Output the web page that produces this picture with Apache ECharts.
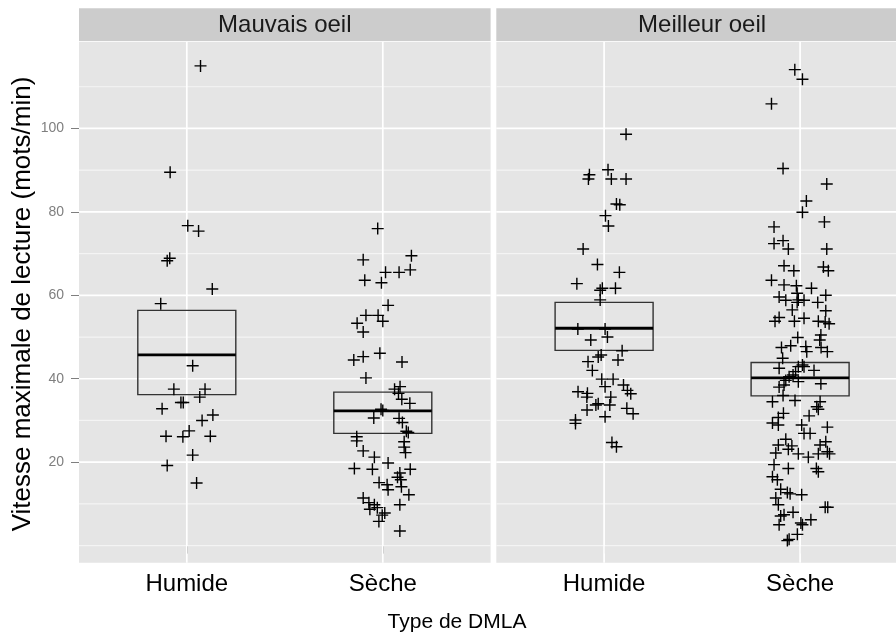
<!DOCTYPE html>
<html><head><meta charset="utf-8">
<script src="https://cdn.jsdelivr.net/npm/echarts@6/dist/echarts.min.js"></script>
<style>html,body{margin:0;padding:0;background:#fff}#c{width:896px;height:638px}</style>
</head><body><div id="c"></div>
<script>
// ---------- data ----------
const panels = ['Mauvais oeil', 'Meilleur oeil'];
const categories = ['Humide', 'Sèche'];
const xTitle = 'Type de DMLA';
const yTitle = 'Vitesse maximale de lecture (mots/min)';
const yTickLabels = [20, 40, 60, 80, 100];
const yMinorBreaks = [0, 10, 30, 50, 70, 90, 110];

// box stats per panel: [Humide, Sèche]
const boxQ1  = [[36.2, 26.9], [46.8, 35.9]];
const boxMed = [[45.7, 32.3], [52.1, 40.2]];
const boxQ3  = [[56.4, 36.8], [58.3, 43.9]];

// jittered points: [x position (1=Humide, 2=Sèche), value]
const mauvaisHumide = [[1.07,115],[0.915,89.5],[1.005,76.7],[1.06,75.4],[0.913,68.9],[0.90,68.3],[1.13,61.5],[0.867,58.0],[1.03,43.1],[0.934,37.5],[1.093,37.5],[1.066,35.6],[0.97,34.3],[0.982,34.3],[0.874,32.8],[1.133,31.3],[1.078,30.0],[1.012,27.5],[0.894,26.2],[0.98,26.1],[1.12,26.2],[1.03,21.7],[0.90,19.2],[1.05,15.0]];
const mauvaisSeche = [[1.974,76.0],[1.90,68.5],[2.146,69.5],[2.014,65.5],[2.083,65.5],[2.14,66.1],[1.908,63.6],[1.993,63.0],[2.027,57.6],[1.914,55.2],[1.976,55.2],[2.0,53.8],[1.869,53.3],[1.90,51.2],[1.985,46.1],[1.90,45.3],[1.852,44.5],[2.098,44.0],[1.914,40.2],[2.06,37.5],[2.088,38.1],[2.08,36.5],[2.097,35.1],[2.138,34.1],[1.991,32.7],[2.0,32.4],[1.954,30.6],[2.083,30.5],[2.10,29.5],[2.12,27.4],[2.13,27.1],[1.867,26.1],[1.867,25.1],[2.109,24.9],[2.109,23.6],[2.116,22.3],[1.90,22.7],[1.957,21.2],[2.027,19.8],[1.855,18.5],[1.947,18.3],[2.14,18.3],[2.087,17.4],[2.075,16.4],[2.092,15.8],[1.981,15.1],[2.022,14.6],[2.095,14.1],[2.027,13.4],[2.133,12.2],[1.90,11.4],[1.929,10.3],[1.957,9.8],[2.087,9.8],[1.934,8.7],[1.972,9.1],[1.997,7.3],[2.01,7.8],[1.98,5.8],[2.087,3.5]];
const meilleurHumide = [[1.112,98.6],[1.02,90.1],[0.925,88.9],[0.92,87.9],[1.037,87.9],[1.112,87.9],[1.063,81.9],[1.08,81.7],[1.007,79.1],[1.022,76.6],[0.893,71.1],[0.966,67.4],[1.078,65.5],[0.861,62.8],[0.991,61.7],[1.058,61.7],[0.98,61.2],[0.98,58.9],[0.866,51.9],[1.005,51.9],[0.932,49.3],[1.017,50.0],[1.092,46.7],[0.985,45.7],[0.97,45.2],[1.071,44.5],[0.918,44.1],[0.94,42.0],[0.988,39.9],[1.046,39.9],[1.005,38.1],[1.099,38.5],[0.867,36.9],[0.915,36.5],[1.119,37.2],[1.136,36.4],[0.912,35.6],[1.034,35.6],[0.958,33.7],[0.97,34.0],[1.029,33.7],[0.913,32.5],[1.116,32.9],[1.148,31.6],[1.005,30.9],[0.854,30.1],[0.854,29.3],[1.04,24.7],[1.063,23.7]];
const meilleurSeche = [[1.973,114.1],[2.012,111.8],[1.854,105.9],[1.913,90.4],[2.136,86.7],[2.032,82.6],[2.012,79.9],[2.124,77.6],[1.867,76.4],[1.867,72.4],[1.913,73.1],[1.94,71.1],[2.136,71.1],[1.918,67.1],[1.968,65.9],[2.119,66.8],[2.144,65.9],[1.854,63.6],[1.918,62.5],[1.981,62.3],[2.058,61.7],[2.131,60.0],[1.893,59.6],[1.985,60.5],[1.927,58.8],[1.991,58.9],[2.02,58.8],[1.985,58.3],[2.09,58.3],[1.96,56.5],[2.131,56.3],[1.893,54.7],[1.872,53.8],[1.971,53.8],[2.02,54.5],[2.093,53.8],[2.128,53.6],[2.148,53.2],[1.988,49.9],[2.106,50.5],[2.10,49.3],[1.952,47.9],[1.905,47.5],[2.029,47.7],[2.107,47.5],[2.034,46.5],[2.139,46.5],[1.911,44.9],[2.012,43.3],[2.02,42.9],[1.991,42.9],[1.893,42.5],[2.071,42.0],[1.977,41.7],[1.964,40.9],[1.944,40.5],[1.927,39.6],[1.991,39.3],[2.106,38.8],[1.918,38.5],[1.893,38.0],[1.913,36.0],[1.859,34.5],[1.974,34.8],[2.102,34.5],[2.085,33.3],[2.093,32.7],[2.046,31.1],[1.915,31.7],[1.889,30.7],[1.859,29.4],[1.889,28.9],[2.008,28.9],[2.139,28.4],[2.02,26.9],[2.051,26.9],[1.927,25.5],[1.889,24.1],[1.958,23.9],[2.131,24.9],[2.102,24.1],[1.876,22.2],[1.991,22.0],[2.042,21.2],[2.093,22.0],[2.139,22.5],[2.15,22.0],[1.94,23.1],[1.867,19.4],[1.94,18.5],[2.083,18.5],[2.093,17.7],[1.859,16.5],[1.884,15.8],[1.901,13.5],[1.935,12.7],[1.949,12.4],[2.008,12.2],[1.876,11.4],[1.889,9.8],[2.128,9.2],[2.141,9.2],[1.964,8.0],[1.901,7.1],[1.918,7.4],[1.893,5.0],[2.055,6.2],[2.012,5.0],[2.004,5.4],[1.986,2.7],[1.944,1.5],[1.935,1.2]];
const panelPoints = [mauvaisHumide.concat(mauvaisSeche), meilleurHumide.concat(meilleurSeche)];

// ---------- layout ----------
const FONT = '"Liberation Sans", Arial, Helvetica, sans-serif';
const gridLeft = [79, 496.3];
const gridTop = 41.7, gridW = 411.6, gridH = 521;
const stripTop = 8.3, stripH = 32.7;
const xMin = 0.45, xMax = 2.55, yMin = -4.1, yMax = 120.8;
const PLUS = 'path://M5.3,0h1.4v5.3h5.3v1.4h-5.3v5.3h-1.4v-5.3h-5.3v-1.4h5.3z';

function hLine(color, width) {
  return function (params, api) {
    const p = api.coord([1, api.value(1)]);
    const cs = params.coordSys;
    return {type: 'line', shape: {x1: cs.x, y1: p[1], x2: cs.x + cs.width, y2: p[1]},
            style: {stroke: color, lineWidth: width}};
  };
}
function vLine(color, width) {
  return function (params, api) {
    const p = api.coord([api.value(0), 50]);
    const cs = params.coordSys;
    return {type: 'line', shape: {x1: p[0], y1: cs.y, x2: p[0], y2: cs.y + cs.height},
            style: {stroke: color, lineWidth: width}};
  };
}
function renderBox(params, api) {
  const x = api.value(0), q1 = api.value(1), med = api.value(2), q3 = api.value(3);
  const a = api.coord([x - 0.25, q3]);
  const b = api.coord([x + 0.25, q1]);
  const m = api.coord([x, med]);
  return {type: 'group', children: [
    {type: 'rect', shape: {x: a[0], y: a[1], width: b[0] - a[0], height: b[1] - a[1]},
     style: {fill: 'none', stroke: '#333333', lineWidth: 1.4}},
    {type: 'line', shape: {x1: a[0], y1: m[1], x2: b[0], y2: m[1]},
     style: {stroke: '#000000', lineWidth: 2.8}}
  ]};
}

const grids = [], xAxes = [], yAxes = [], series = [], graphics = [];
panels.forEach((name, i) => {
  grids.push({left: gridLeft[i], top: gridTop, width: gridW, height: gridH,
              show: true, backgroundColor: '#E5E5E5', borderWidth: 0,
              containLabel: false, outerBoundsMode: 'none'});
  xAxes.push({gridIndex: i, type: 'value', min: xMin, max: xMax,
    splitLine: {show: false}, axisLine: {show: false},
    axisTick: {show: true, customValues: [1, 2], length: 8, lineStyle: {color: '#7F7F7F', width: 1}},
    axisLabel: {show: true, customValues: [1, 2], formatter: v => categories[Math.round(v) - 1],
                fontSize: 24, color: '#000', margin: 10, fontFamily: FONT}});
  yAxes.push({gridIndex: i, type: 'value', min: yMin, max: yMax,
    splitLine: {show: false}, axisLine: {show: false},
    axisTick: {show: i === 0, customValues: yTickLabels, length: 8, lineStyle: {color: '#7F7F7F', width: 1}},
    axisLabel: {show: i === 0, customValues: yTickLabels, fontSize: 14, color: '#7F7F7F',
                margin: 15, fontFamily: FONT}});
  series.push({type: 'custom', xAxisIndex: i, yAxisIndex: i, silent: true, z: 1,
    data: yMinorBreaks.map(v => [1, v]), renderItem: hLine('#F4F4F4', 1.2)});
  series.push({type: 'custom', xAxisIndex: i, yAxisIndex: i, silent: true, z: 2,
    data: yTickLabels.map(v => [1, v]), renderItem: hLine('#FFFFFF', 1.7)});
  series.push({type: 'custom', xAxisIndex: i, yAxisIndex: i, silent: true, z: 2,
    data: [[1, 50], [2, 50]], renderItem: vLine('#FFFFFF', 1.7)});
  series.push({type: 'custom', xAxisIndex: i, yAxisIndex: i, silent: true, z: 3,
    encode: {x: 0, y: [1, 2, 3]},
    data: [0, 1].map(c => [c + 1, boxQ1[i][c], boxMed[i][c], boxQ3[i][c]]), renderItem: renderBox});
  series.push({type: 'scatter', xAxisIndex: i, yAxisIndex: i, z: 4, silent: true,
    symbol: PLUS, symbolSize: 12, itemStyle: {color: '#000', opacity: 1},
    data: panelPoints[i]});
  graphics.push({type: 'rect', left: gridLeft[i], top: stripTop,
    shape: {width: gridW, height: stripH}, style: {fill: '#CCCCCC'}, silent: true});
  graphics.push({type: 'text', x: gridLeft[i] + gridW / 2, y: stripTop + stripH / 2 + 1,
    style: {text: name, fill: '#1A1A1A', font: '24px ' + FONT, align: 'center', verticalAlign: 'middle'}});
});
graphics.push({type: 'text', x: 457, y: 622,
  style: {text: xTitle, fill: '#000', font: '21px ' + FONT, align: 'center', verticalAlign: 'middle'}});
graphics.push({type: 'text', x: 23, y: 304, rotation: Math.PI / 2,
  style: {text: yTitle, fill: '#000', font: '26px ' + FONT, align: 'center', verticalAlign: 'middle'}});

const chart = echarts.init(document.getElementById('c'), null, {renderer: 'canvas'});
chart.setOption({
  backgroundColor: '#FFFFFF',
  animation: false,
  textStyle: {fontFamily: FONT},
  grid: grids, xAxis: xAxes, yAxis: yAxes, series: series, graphic: graphics
});
</script>
</body></html>
